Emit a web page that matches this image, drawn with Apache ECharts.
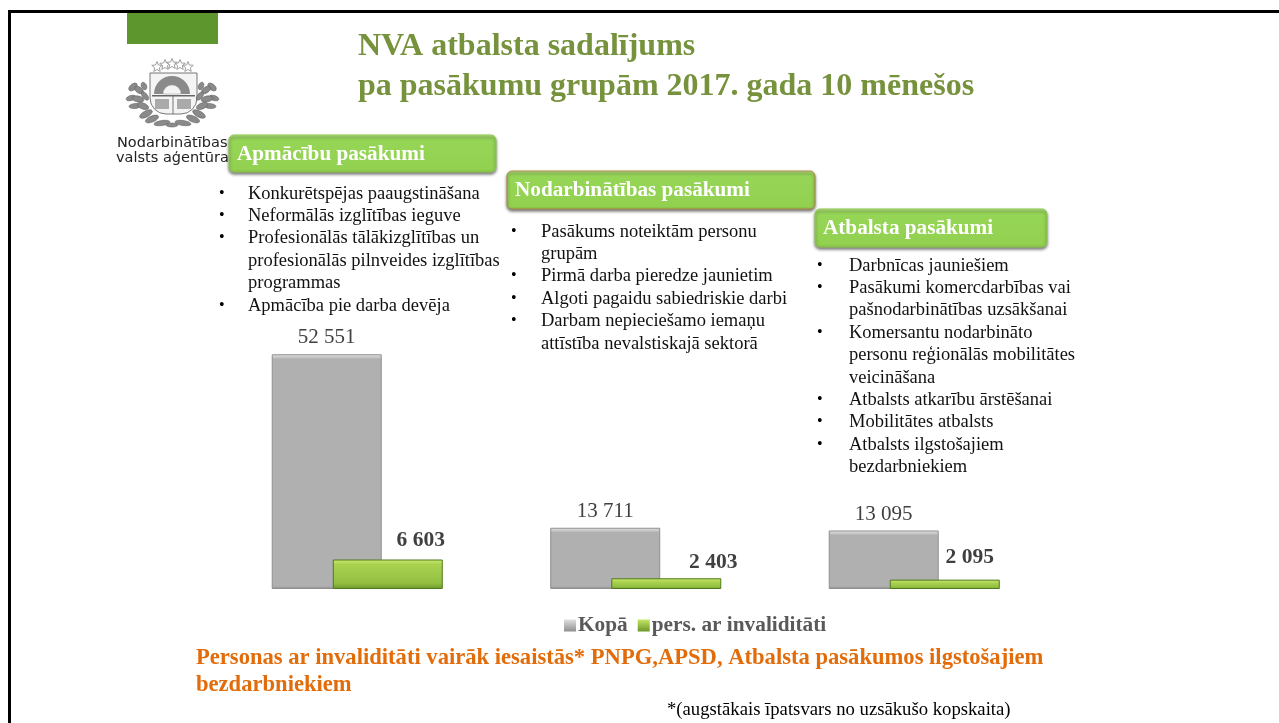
<!DOCTYPE html>
<html>
<head>
<meta charset="utf-8">
<style>
html,body{margin:0;padding:0;background:#fff;}
#main{width:1279px;height:723px;}
</style>
</head>
<body>
<div id="main"></div>
<script src="https://cdn.jsdelivr.net/npm/echarts@6/dist/echarts.min.js"></script>
<script>
var groups = ['Apmācību pasākumi', 'Nodarbinātības pasākumi', 'Atbalsta pasākumi'];
var kopa = [52551, 13711, 13095];
var invalid = [6603, 2403, 2095];
var seriesNames = ['Kopā', 'pers. ar invaliditāti'];

var titleLines = ['NVA atbalsta sadalījums', 'pa pasākumu grupām 2017. gada 10 mēnešos'];
var list1 = [
    ['•', 'Konkurētspējas paaugstināšana'],
    ['•', 'Neformālās izglītības ieguve'],
    ['•', 'Profesionālās tālākizglītības un'],
    ['', 'profesionālās pilnveides izglītības'],
    ['', 'programmas'],
    ['•', 'Apmācība pie darba devēja']
];
var list2 = [
    ['•', 'Pasākums noteiktām personu'],
    ['', 'grupām'],
    ['•', 'Pirmā darba pieredze jaunietim'],
    ['•', 'Algoti pagaidu sabiedriskie darbi'],
    ['•', 'Darbam nepieciešamo iemaņu'],
    ['', 'attīstība nevalstiskajā sektorā']
];
var list3 = [
    ['•', 'Darbnīcas jauniešiem'],
    ['•', 'Pasākumi komercdarbības vai'],
    ['', 'pašnodarbinātības uzsākšanai'],
    ['•', 'Komersantu nodarbināto'],
    ['', 'personu reģionālās mobilitātes'],
    ['', 'veicināšana'],
    ['•', 'Atbalsts atkarību ārstēšanai'],
    ['•', 'Mobilitātes atbalsts'],
    ['•', 'Atbalsts ilgstošajiem'],
    ['', 'bezdarbniekiem']
];
var bottomLines = ['Personas ar invaliditāti vairāk iesaistās* PNPG,APSD, Atbalsta pasākumos ilgstošajiem', 'bezdarbniekiem'];
var footnote = '*(augstākais īpatsvars no uzsākušo kopskaita)';
var logoLines = ['Nodarbinātības', 'valsts aģentūra'];

var SERIF = '"Liberation Serif", "Times New Roman", serif';
var axisMax = 60000;
var gridTop = 321, gridH = 268;

function spaced(v) {
    return String(v).replace(/\B(?=(\d{3})+$)/g, ' ');
}
// bevel is a fixed number of pixels, so stops depend on the bar height
function bevel(v, top, mid, low) {
    var h = v / axisMax * gridH;
    var a = Math.min(5 / h, 0.3);
    return {
        type: 'linear', x: 0, y: 0, x2: 0, y2: 1,
        colorStops: [
            {offset: 0, color: top},
            {offset: a, color: mid},
            {offset: 1 - Math.min(3 / h, 0.2), color: mid},
            {offset: 1, color: low}
        ]
    };
}
function greenFill(v) {
    var h = v / axisMax * gridH;
    var a = Math.min(5 / h, 0.35);
    return {
        type: 'linear', x: 0, y: 0, x2: 0, y2: 1,
        colorStops: [
            {offset: 0, color: '#cbea6c'},
            {offset: a, color: '#a9d250'},
            {offset: 0.8, color: '#93bf42'},
            {offset: 1, color: '#6c9628'}
        ]
    };
}

var greenLabelOffset = [[33, -2], [47, 1], [25, -5]];

var g = [];
function text(x, y, str, font, fill, z, align) {
    g.push({type: 'text', x: x, y: y, z: z || 10, style: {
        text: str, font: font, fill: fill, textAlign: align || 'left', textVerticalAlign: 'middle'
    }});
}
function box(x, y, w, h, label, borderCol) {
    g.push({type: 'rect', z: 8, shape: {x: x, y: y, width: w, height: h, r: 5}, style: {
        fill: {type: 'linear', x: 0, y: 0, x2: 0, y2: 1, colorStops: [
            {offset: 0, color: '#bce88a'}, {offset: 0.1, color: '#96d656'}, {offset: 0.92, color: '#92d050'}, {offset: 1, color: '#84bd45'}
        ]},
        stroke: borderCol, lineWidth: 1,
        shadowColor: 'rgba(50,50,50,0.65)', shadowBlur: 3, shadowOffsetY: 2
    }});
    text(x + 8, y + h / 2 + 1, label, 'bold 21.2px ' + SERIF, '#ffffff', 9);
}
function bullets(list, bx, tx, ys) {
    list.forEach(function (row, i) {
        if (row[0]) text(bx, ys[i], row[0], '16px ' + SERIF, '#000', 9);
        text(tx, ys[i], row[1], '18.5px ' + SERIF, '#111', 9);
    });
}
function star(cx, cy, r) {
    var pts = [];
    for (var i = 0; i < 10; i++) {
        var rr = i % 2 ? r * 0.45 : r;
        var t = -Math.PI / 2 + i * Math.PI / 5;
        pts.push([cx + rr * Math.cos(t), cy + rr * Math.sin(t)]);
    }
    return pts;
}

// frame
g.push({type: 'rect', shape: {x: 8, y: 10, width: 3, height: 713}, style: {fill: '#000'}});
g.push({type: 'rect', shape: {x: 8, y: 10, width: 1271, height: 3}, style: {fill: '#000'}});
// logo
g.push({type: 'rect', shape: {x: 127, y: 13, width: 91, height: 31}, style: {fill: '#5e962e'}});
[[157, 67], [165, 65], [172, 64], [180, 65], [188, 67]].forEach(function (s) {
    g.push({type: 'polygon', z: 3, shape: {points: star(s[0], s[1], 5.5)}, style: {fill: '#fff', stroke: '#888', lineWidth: 0.8}});
});
g.push({type: 'rect', z: 3, shape: {x: 150, y: 73, width: 47, height: 41, r: [0, 0, 16, 16]}, style: {fill: '#f4f4f4', stroke: '#777', lineWidth: 1}});
g.push({type: 'sector', z: 3, shape: {cx: 172, cy: 94, r0: 9, r: 18, startAngle: Math.PI, endAngle: Math.PI * 2}, style: {fill: '#8a8a8a'}});
g.push({type: 'sector', z: 3, shape: {cx: 172, cy: 94, r0: 0, r: 9, startAngle: Math.PI, endAngle: Math.PI * 2}, style: {fill: '#f4f4f4', stroke: '#999', lineWidth: 0.5}});
g.push({type: 'rect', z: 3, shape: {x: 152, y: 95, width: 43, height: 1.5}, style: {fill: '#666'}});
g.push({type: 'rect', z: 3, shape: {x: 172.5, y: 96, width: 1, height: 18}, style: {fill: '#777'}});
g.push({type: 'rect', z: 3, shape: {x: 155, y: 99, width: 14, height: 10}, style: {fill: '#aaa'}});
g.push({type: 'rect', z: 3, shape: {x: 177, y: 99, width: 14, height: 10}, style: {fill: '#aaa'}});
// wreath leaves: cx, cy, rx, ry, rotation
[[133, 87, 5, 3, 0.7], [139, 90, 5, 3, -0.6], [144, 86, 4, 2.5, -1.1], [131, 98, 5, 2.5, 0.3], [138, 99, 6, 3, -0.2],
 [145, 96, 5, 2.5, -0.9], [135, 106, 6, 2.5, 0.1], [143, 106, 6, 3, -0.4], [146, 114, 7, 3, 0.5], [152, 119, 7, 3, 0.4],
 [162, 123, 8, 2.5, 0.15], [172, 125, 6, 2, 0],
 [212, 87, 5, 3, -0.7], [206, 90, 5, 3, 0.6], [201, 86, 4, 2.5, 1.1], [214, 98, 5, 2.5, -0.3], [207, 99, 6, 3, 0.2],
 [200, 96, 5, 2.5, 0.9], [210, 106, 6, 2.5, -0.1], [202, 106, 6, 3, 0.4], [199, 114, 7, 3, -0.5], [193, 119, 7, 3, -0.4],
 [183, 123, 8, 2.5, -0.15]].forEach(function (l) {
    g.push({type: 'ellipse', z: 3, rotation: l[4], x: l[0], y: l[1], shape: {cx: 0, cy: 0, rx: l[2], ry: l[3]}, style: {fill: '#8a8a8a', stroke: '#5a5a5a', lineWidth: 0.5}});
});
text(117, 143, logoLines[0], '14.5px "DejaVu Sans", sans-serif', '#222', 3);
text(116, 158, logoLines[1], '14.5px "DejaVu Sans", sans-serif', '#222', 3);
// title
text(358, 47, titleLines[0], 'bold 32px ' + SERIF, '#76923c');
text(358, 87, titleLines[1], 'bold 32px ' + SERIF, '#76923c');
// group boxes
box(229, 135, 267, 37, groups[0], '#8fcb4e');
box(507, 171, 308, 38, groups[1], '#b08a4a');
box(815, 209, 232, 38, groups[2], '#8fcb4e');
bullets(list1, 219, 248, [194, 216, 238, 261, 283, 306]);
bullets(list2, 511, 541, [232, 254, 276, 299, 321, 344]);
bullets(list3, 817, 849, [266, 288, 310, 333, 355, 378, 400, 422, 445, 467]);
// bottom notes
text(196, 658, bottomLines[0], 'bold 22.6px ' + SERIF, '#e36c0a');
text(196, 685, bottomLines[1], 'bold 22.6px ' + SERIF, '#e36c0a');
text(667, 710, footnote, '18.7px ' + SERIF, '#000');

var chart = echarts.init(document.getElementById('main'));
chart.setOption({
    animation: false,
    backgroundColor: '#fff',
    grid: {left: 218, width: 835.5, top: gridTop, height: gridH},
    legend: {
        data: [
            {name: seriesNames[0], itemStyle: {color: {type: 'linear', x: 0, y: 0, x2: 0, y2: 1, colorStops: [{offset: 0, color: '#e0e0e0'}, {offset: 1, color: '#8f8f8f'}]}}},
            {name: seriesNames[1], itemStyle: {color: {type: 'linear', x: 0, y: 0, x2: 0, y2: 1, colorStops: [{offset: 0, color: '#c4e665'}, {offset: 1, color: '#6c9628'}]}}}
        ],
        left: 559, top: 610,
        icon: 'rect',
        itemWidth: 12, itemHeight: 12, itemGap: 10,
        itemStyle: {borderWidth: 0},
        textStyle: {fontFamily: SERIF, fontWeight: 'bold', fontSize: 21.3, color: '#595959', padding: [0, 0, 0, -3]}
    },
    xAxis: {type: 'category', data: groups, axisLine: {show: false}, axisTick: {show: false}, axisLabel: {show: false}},
    yAxis: {type: 'value', min: 0, max: axisMax, show: false, splitLine: {show: false}},
    series: [
        {
            name: seriesNames[0], type: 'bar', barWidth: 110, barGap: '-44.5%',
            itemStyle: {color: '#adadad', borderColor: '#8f8f8f', borderWidth: 1},
            data: kopa.map(function (v) {
                return {value: v, itemStyle: {color: bevel(v, '#e6e6e6', '#b0b0b0', '#8c8c8c')}};
            }),
            label: {show: true, position: 'top', distance: 6, fontFamily: SERIF, fontSize: 21, color: '#404040',
                formatter: function (p) { return spaced(p.value); }}
        },
        {
            name: seriesNames[1], type: 'bar', barWidth: 110, barGap: '-44.5%', z: 3,
            itemStyle: {color: '#8cb83c', borderColor: '#4f7a1c', borderWidth: 1},
            data: invalid.map(function (v, i) {
                return {
                    value: v,
                    itemStyle: {color: greenFill(v)},
                    label: {offset: greenLabelOffset[i]}
                };
            }),
            label: {show: true, position: 'top', distance: 6, fontFamily: SERIF, fontWeight: 'bold', fontSize: 21.5, color: '#404040',
                formatter: function (p) { return spaced(p.value); }}
        }
    ],
    graphic: {elements: g}
});
</script>
</body>
</html>
